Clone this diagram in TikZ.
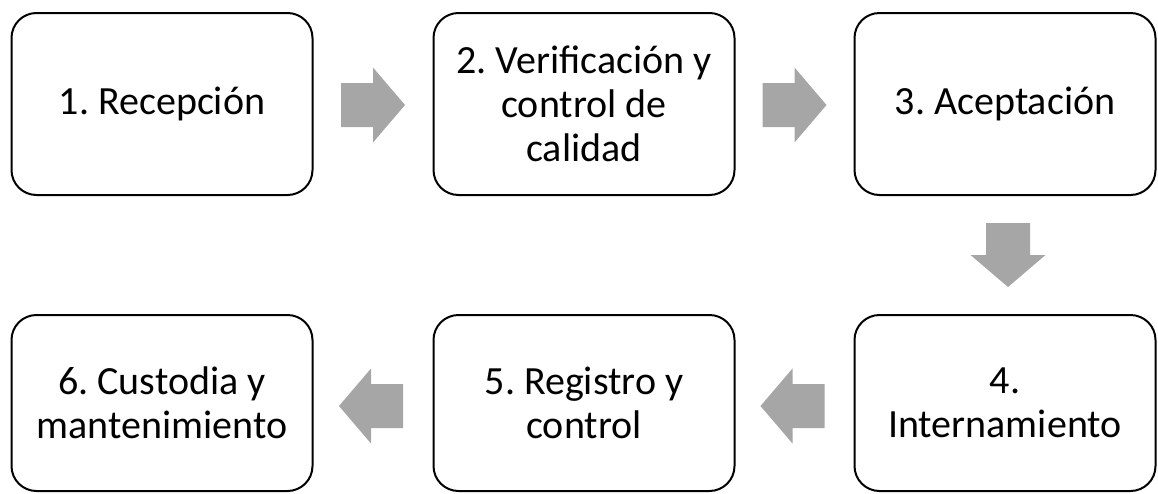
\documentclass[tikz,border=0pt]{standalone}
\usepackage{fontspec}
\setmainfont{Carlito}
\usetikzlibrary{calc}
\definecolor{arrowgray}{HTML}{A6A6A6}
\tikzset{
  box/.style={draw=black, line width=2pt, rounded corners=25pt, minimum width=301pt,
    inner sep=0pt, align=center, font=\fontsize{40}{44}\selectfont\frenchspacing},
  toprow/.style={box, minimum height=182pt},
  botrow/.style={box, minimum height=176pt},
  blockarrow/.pic={\fill[arrowgray] (-32,-22) -- (0,-22) -- (0,-37.5) -- (32,0) -- (0,37.5) -- (0,22) -- (-32,22) -- cycle;}
}
\begin{document}
\begin{tikzpicture}[x=1pt,y=-1pt]
\useasboundingbox (0,0) rectangle (1158,493);
\node[toprow] (b1) at (162,104) {1. Recepción};
\node[toprow] (b2) at (584,104) {2. Verificación y\\control de\\calidad};
\node[toprow] (b3) at (1005,104) {3. Aceptación};
\node[botrow] (b4) at (1005,403) {4.\\Internamiento};
\node[botrow] (b5) at (584,403) {5. Registro y\\control};
\node[botrow] (b6) at (162,403) {6. Custodia y\\mantenimiento};
\pic at ($(b1.east)!.5!(b2.west)+(0,1)$) {blockarrow};
\pic at ($(b2.east)!.5!(b3.west)+(0,1)$) {blockarrow};
\pic[rotate=-90] at ($(b3.south)!.5!(b4.north)+(3,0)$) {blockarrow};
\pic[rotate=180] at ($(b4.west)!.5!(b5.east)+(-2,3)$) {blockarrow};
\pic[rotate=180] at ($(b5.west)!.5!(b6.east)+(-2,3)$) {blockarrow};
\end{tikzpicture}
\end{document}
